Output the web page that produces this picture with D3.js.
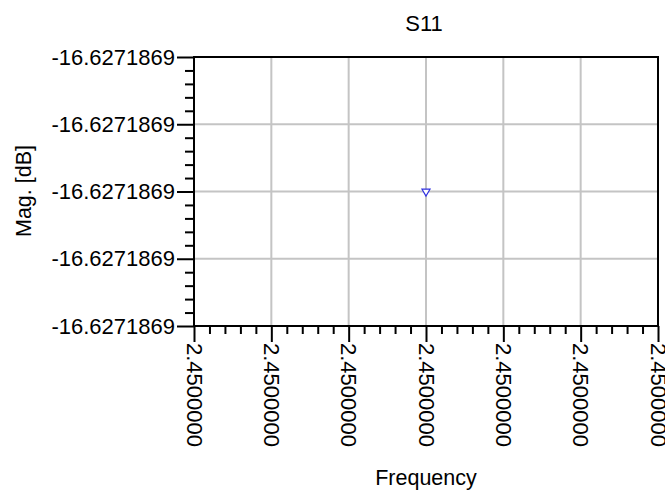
<!DOCTYPE html>
<html>
<head>
<meta charset="utf-8">
<script src="https://cdn.jsdelivr.net/npm/d3@7"></script>
<style>
  body { margin: 0; background: #fff; }
  text { font-family: "Liberation Sans", Arial, sans-serif; fill: #000; }
</style>
</head>
<body>
<div id="chart"></div>
<script>
// Chart data
var freqValues = [2.45];
var magValues = [-16.6271869];

// tick values and labels (all labels print the same at 7 decimals)
var xTicks = [2.44999997, 2.44999998, 2.44999999, 2.45, 2.45000001, 2.45000002, 2.45000003];
var xTickLabels = ["2.4500000", "2.4500000", "2.4500000", "2.4500000", "2.4500000", "2.4500000", "2.4500000"];
var yTicks = [-16.62718692, -16.62718691, -16.6271869, -16.62718689, -16.62718688];
var yTickLabels = ["-16.6271869", "-16.6271869", "-16.6271869", "-16.6271869", "-16.6271869"];

var svgWidth = 665;
var svgHeight = 490;

var margin = { top: 57, right: 7, bottom: 164, left: 194 };
var chartWidth = svgWidth - margin.left - margin.right;
var chartHeight = svgHeight - margin.top - margin.bottom;

var svg = d3.select("#chart")
  .append("svg")
  .attr("width", svgWidth)
  .attr("height", svgHeight);

var chartGroup = svg.append("g")
  .attr("transform", `translate(${margin.left}, ${margin.top})`);

var xScale = d3.scaleLinear()
  .domain([xTicks[0], xTicks[xTicks.length - 1]])
  .range([0, chartWidth]);

var yScale = d3.scaleLinear()
  .domain([yTicks[0], yTicks[yTicks.length - 1]])
  .range([chartHeight, 0]);

// minor ticks: 4 between each pair of majors
function minorTicks(ticks) {
  var out = [];
  for (var i = 0; i < ticks.length - 1; i++) {
    for (var k = 1; k < 5; k++) {
      out.push(ticks[i] + (ticks[i + 1] - ticks[i]) * k / 5);
    }
  }
  return out;
}

// gridlines
chartGroup.append("g")
  .selectAll("line")
  .data(xTicks.slice(1, -1))
  .enter()
  .append("line")
  .attr("x1", d => xScale(d))
  .attr("x2", d => xScale(d))
  .attr("y1", 0)
  .attr("y2", chartHeight)
  .attr("stroke", "#c4c4c4")
  .attr("stroke-width", 2);

chartGroup.append("g")
  .selectAll("line")
  .data(yTicks.slice(1, -1))
  .enter()
  .append("line")
  .attr("x1", 0)
  .attr("x2", chartWidth)
  .attr("y1", d => yScale(d))
  .attr("y2", d => yScale(d))
  .attr("stroke", "#c4c4c4")
  .attr("stroke-width", 2);

// minor ticks
chartGroup.append("g")
  .attr("transform", `translate(0, ${chartHeight})`)
  .call(d3.axisBottom(xScale).tickValues(minorTicks(xTicks)).tickSize(8).tickFormat(""))
  .call(g => g.select(".domain").remove())
  .selectAll("line").attr("stroke-width", 2);

chartGroup.append("g")
  .call(d3.axisLeft(yScale).tickValues(minorTicks(yTicks)).tickSize(9).tickFormat(""))
  .call(g => g.select(".domain").remove())
  .selectAll("line").attr("stroke-width", 2);

// major x axis
var xAxis = chartGroup.append("g")
  .attr("transform", `translate(0, ${chartHeight})`)
  .call(d3.axisBottom(xScale).tickValues(xTicks).tickSize(16).tickFormat((d, i) => xTickLabels[i]));
xAxis.select(".domain").remove();
xAxis.selectAll("line").attr("stroke-width", 2);
xAxis.selectAll("text")
  .attr("font-size", 22)
  .attr("text-anchor", "start")
  .attr("transform", "rotate(90)")
  .attr("x", 17)
  .attr("y", 0)
  .attr("dy", "0.35em");

// major y axis
var yAxis = chartGroup.append("g")
  .call(d3.axisLeft(yScale).tickValues(yTicks).tickSize(17).tickPadding(2).tickFormat((d, i) => yTickLabels[i]));
yAxis.select(".domain").remove();
yAxis.selectAll("line").attr("stroke-width", 2);
yAxis.selectAll("text").attr("font-size", 22);

// frame
chartGroup.append("rect")
  .attr("x", 0)
  .attr("y", 0)
  .attr("width", chartWidth)
  .attr("height", chartHeight)
  .attr("fill", "none")
  .attr("stroke", "#000")
  .attr("stroke-width", 2);

// data point marker (inverted triangle)
chartGroup.selectAll(".marker")
  .data(freqValues)
  .enter()
  .append("path")
  .attr("class", "marker")
  .attr("d", d3.symbol().type(d3.symbolTriangle).size(28))
  .attr("transform", (d, i) => `translate(${xScale(d)}, ${yScale(magValues[i])}) rotate(180)`)
  .attr("fill", "#fff")
  .attr("stroke", "#3030e0")
  .attr("stroke-width", 1.2);

// title and axis labels
svg.append("text")
  .attr("x", 424)
  .attr("y", 31)
  .attr("text-anchor", "middle")
  .attr("font-size", 22)
  .text("S11");

svg.append("text")
  .attr("x", margin.left + chartWidth / 2)
  .attr("y", 485)
  .attr("text-anchor", "middle")
  .attr("font-size", 21.5)
  .text("Frequency");

svg.append("text")
  .attr("transform", "rotate(-90)")
  .attr("x", -191)
  .attr("y", 31)
  .attr("text-anchor", "middle")
  .attr("font-size", 21.5)
  .text("Mag. [dB]");
</script>
</body>
</html>
